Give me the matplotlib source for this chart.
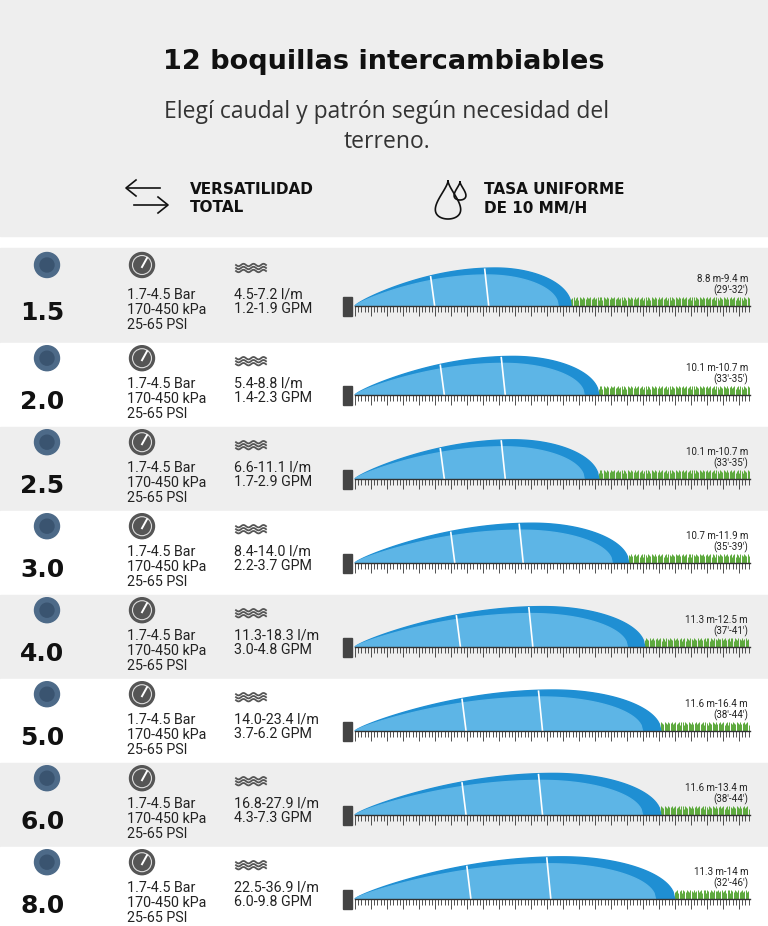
import numpy as np
import matplotlib.pyplot as plt
from matplotlib.patches import Polygon, Circle, Rectangle

nozzles = ["1.5", "2.0", "2.5", "3.0", "4.0", "5.0", "6.0", "8.0"]
pressure = ["1.7-4.5 Bar\n170-450 kPa\n25-65 PSI"] * 8
flow_lpm = ["4.5-7.2 l/m", "5.4-8.8 l/m", "6.6-11.1 l/m", "8.4-14.0 l/m",
            "11.3-18.3 l/m", "14.0-23.4 l/m", "16.8-27.9 l/m", "22.5-36.9 l/m"]
flow_gpm = ["1.2-1.9 GPM", "1.4-2.3 GPM", "1.7-2.9 GPM", "2.2-3.7 GPM",
            "3.0-4.8 GPM", "3.7-6.2 GPM", "4.3-7.3 GPM", "6.0-9.8 GPM"]
radius_m = ["8.8 m-9.4 m", "10.1 m-10.7 m", "10.1 m-10.7 m", "10.7 m-11.9 m",
            "11.3 m-12.5 m", "11.6 m-16.4 m", "11.6 m-13.4 m", "11.3 m-14 m"]
radius_ft = ["(29'-32')", "(33'-35')", "(33'-35')", "(35'-39')",
             "(37'-41')", "(38'-44')", "(38'-44')", "(32'-46')"]
# drawn spray reach (m)
reach = [9.4, 10.6, 10.6, 11.9, 12.6, 13.3, 13.3, 13.9]

PX_PER_M = 23.0
X0 = 355
SMALL = ["Roboto", "DejaVu Sans"]
BOLD = ["DejaVu Sans"]

fig = plt.figure(figsize=(7.68, 9.26), dpi=100)
ax = fig.add_axes([0, 0, 1, 1])
ax.set_xlim(0, 768)
ax.set_ylim(926, 0)
ax.axis("off")
fig.patch.set_facecolor("white")

# header
ax.add_patch(Rectangle((0, 0), 768, 236, color="#eeeeee", zorder=0))
ax.text(384, 62, "12 boquillas intercambiables", ha="center", va="center",
        fontsize=19.5, fontweight="bold", family=BOLD, color="#111111")
ax.text(387, 127, "Elegí caudal y patrón según necesidad del\nterreno.", ha="center",
        va="center", fontsize=16.5, family=["Open Sans", "DejaVu Sans"], color="#333333",
        linespacing=1.35)
ax.text(190, 199, "VERSATILIDAD\nTOTAL", ha="left", va="center", fontsize=11,
        fontweight="bold", family=BOLD, color="#111111", linespacing=1.25)
ax.text(484, 199, "TASA UNIFORME\nDE 10 MM/H", ha="left", va="center", fontsize=11,
        fontweight="bold", family=BOLD, color="#111111", linespacing=1.25)
# arrows icon
ax.plot([128, 160], [188, 188], color="#111", lw=1.2)
ax.plot([136, 126, 136], [180, 188, 196], color="#111", lw=1.2)
ax.plot([134, 166], [205, 205], color="#111", lw=1.2)
ax.plot([158, 168, 158], [197, 205, 213], color="#111", lw=1.2)
# drop icon
t = np.linspace(0, 2 * np.pi, 100)
ax.plot(448 + 15 * np.sin(t) * (1 - np.cos(t)) / 2 * 1.3,
        200 - 19 * np.cos(t), color="#111", lw=1.2)
ax.plot(460 + 7 * np.sin(t) * (1 - np.cos(t)) / 2 * 1.3,
        191 - 9 * np.cos(t), color="#111", lw=1.2)

row_tops = [248, 343, 427, 511, 595, 679, 763, 847]
row_h = [95, 84, 84, 84, 84, 84, 84, 79]
for i, n in enumerate(nozzles):
    top = row_tops[i]
    bg = "#eeeeee" if i % 2 == 0 else "white"
    ax.add_patch(Rectangle((0, top), 768, row_h[i], color=bg, zorder=0))
    off = 0 if i == 0 else -6
    g = top + 58 + off  # ground line
    iy = top + 17 + off * 0.3

    # icons
    ax.add_patch(Circle((47, iy), 12.5, color="#4d6a88", zorder=2))
    ax.add_patch(Circle((47, iy), 7, color="#3a5470", zorder=3))
    ax.add_patch(Circle((142, iy), 12.5, color="#555555", zorder=2))
    ax.add_patch(Circle((142, iy), 9.5, fill=False, ec="#dddddd", lw=0.8, zorder=3))
    ax.plot([142, 147], [iy + 2, iy - 7], color="white", lw=1.4, zorder=4)
    wx = np.linspace(236, 266, 60)
    for dy in (-3, 0, 3):
        ax.plot(wx, iy + 3 + dy + 1.2 * np.sin((wx - 236) / 30 * 6 * np.pi),
                color="#555555", lw=1.3)

    ax.text(20, top + 65 + off, n, ha="left", va="center", fontsize=18,
            fontweight="bold", family=BOLD, color="#111111")
    ax.text(127, top + 62 + off, pressure[i], ha="left", va="center", fontsize=10.3,
            family=SMALL, color="#222222", linespacing=1.05)
    ax.text(234, top + 54 + off, flow_lpm[i] + "\n" + flow_gpm[i], ha="left",
            va="center", fontsize=10.3, family=SMALL, color="#222222", linespacing=1.05)
    ax.text(748, top + 31 + off, radius_m[i], ha="right", va="center", fontsize=7,
            family=SMALL, color="#222222")
    ax.text(748, top + 42 + off, radius_ft[i], ha="right", va="center", fontsize=7,
            family=SMALL, color="#222222")

    # spray arc
    xl = X0 + reach[i] * PX_PER_M
    span = xl - X0
    H = 38 + i * 0.6
    u = np.linspace(0, 1, 200)
    shape = np.where(u < 0.65, np.sin(u / 0.65 * np.pi / 2) ** 0.8,
                     np.sqrt(np.clip(1 - ((u - 0.65) / 0.35) ** 2, 0, 1)))
    xs = X0 + u * span
    outer = np.column_stack([np.r_[xs, X0], np.r_[g - H * shape, g]])
    ax.add_patch(Polygon(outer, color="#1f8fd3", zorder=3))
    xs2 = X0 + u * span * 0.94
    inner = np.column_stack([np.r_[xs2, X0], np.r_[g - (H - 7) * shape, g]])
    ax.add_patch(Polygon(inner, color="#5db5e6", zorder=4))
    for frac in (0.35, 0.6):
        xa = X0 + frac * span
        hh = np.interp(xa, xs, H * shape)
        ax.plot([xa, xa + 4], [g - hh + 1, g], color="white", lw=1.2, zorder=5)

    # grass
    gx = np.arange(xl, 749, 1.2)
    gh = 6 + 3 * np.abs(np.sin(gx * 1.7))
    ax.vlines(gx, g - gh, g, color="#5aa83a", lw=0.7, zorder=2)

    # ruler
    ax.plot([X0, 750], [g, g], color="#333333", lw=1, zorder=6)
    tx = np.arange(X0, 751, 3.2)
    tl = np.where(np.arange(len(tx)) % 5 == 0, 10, 6)
    ax.vlines(tx, g, g + tl, color="#333333", lw=0.6, zorder=6)
    ax.add_patch(Rectangle((343, g - 9), 9, 19, color="#444444", zorder=6))

fig.savefig("out.png", dpi=100)
